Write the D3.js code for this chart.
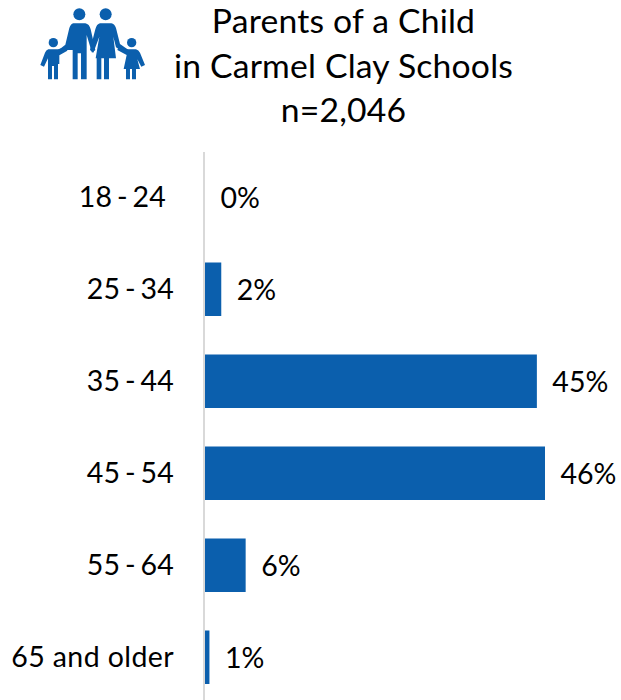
<!DOCTYPE html>
<html><head><meta charset="utf-8">
<script src="https://cdn.jsdelivr.net/npm/d3@7"></script>
<style>html,body{margin:0;padding:0;background:#fff}svg{display:block}text{font-family:Lato,"Open Sans",sans-serif;fill:#000}</style>
</head><body><svg id="c" width="621" height="700"></svg>
<script>
const categories=["18 - 24","25 - 34","35 - 44","45 - 54","55 - 64","65 and older"];
const values=[0,2.2,44.9,46,5.5,0.6];
const valueLabels=["0%","2%","45%","46%","6%","1%"];
const titleLines=["Parents of a Child","in Carmel Clay Schools","n=2,046"];
const blue="#0b5fad";
const svg=d3.select("#c");
const x=d3.scaleLinear().domain([0,46]).range([205,545]);
const y=d3.scaleBand().domain(categories).range([151.5,703.5]).paddingInner(38/92).paddingOuter(19/92);

svg.selectAll("text.title").data(titleLines).join("text").attr("class","title")
  .attr("x",343.5).attr("y",(d,i)=>33+i*44.5).attr("text-anchor","middle").attr("font-size",33.7).attr("letter-spacing",0.2).text(d=>d);

svg.append("line").attr("x1",204).attr("x2",204).attr("y1",152).attr("y2",700).attr("stroke","#d9d9d9").attr("stroke-width",2);

svg.selectAll("rect.bar").data(values).join("rect").attr("class","bar")
  .attr("x",x(0)).attr("y",(d,i)=>y(categories[i])).attr("width",d=>x(d)-x(0)).attr("height",y.bandwidth()-0.5).attr("fill",blue);

svg.selectAll("text.cat").data(categories).join("text").attr("class","cat")
  .attr("x",(d,i)=>i===0?166:174).attr("y",d=>y(d)+y.bandwidth()/2+9).attr("text-anchor","end").attr("font-size",28.5)
  .attr("letter-spacing",d=>d.includes(" - ")?0.2:0.4).attr("word-spacing",d=>d.includes(" - ")?-2.7:0).text(d=>d);

svg.selectAll("text.val").data(values).join("text").attr("class","val")
  .attr("x",d=>x(d)+15.5).attr("y",(d,i)=>y(categories[i])+y.bandwidth()/2+10.5).attr("font-size",28.5).text((d,i)=>valueLabels[i]);

// family icon
const g=svg.append("g").attr("fill",blue).attr("stroke","none").attr("transform","translate(30,0) scale(0.3333)");
[[148,43,18],[227,43,18],[70,128,14],[305,128,14]].forEach(c=>g.append("circle").attr("cx",c[0]).attr("cy",c[1]).attr("r",c[2]));
[
 "M130 70 H166 Q178 72 182 88 L196 150 L186 158 L170 105 V238 H153 V160 H143 V238 H128 V150 Q120 150 110 150 L86 165 L82 153 L106 134 L118 84 Q122 72 130 70Z",
 "M210 70 H244 Q254 72 258 84 L270 132 L300 153 L294 164 L258 142 L250 110 L258 175 H237 V238 H222 V175 H214 V238 H200 V175 H197 L208 110 L190 158 L180 150 L196 88 Q200 72 210 70Z",
 "M55 148 H84 L110 140 L112 152 L88 166 V192 H84 V238 H72 V198 H66 V238 H54 V175 L42 200 L31 195 L45 158 Q48 150 55 148Z",
 "M292 148 H318 Q326 150 330 158 L345 195 L334 200 L322 178 L330 207 H318 V238 H306 V207 H300 V238 H288 V207 H281 L290 165 L262 150 L266 139Z"
].forEach(d=>g.append("path").attr("d",d));
</script></body></html>
